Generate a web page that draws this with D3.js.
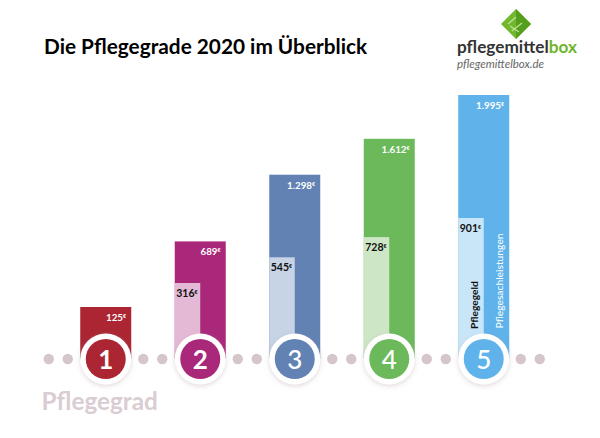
<!DOCTYPE html>
<html lang="de">
<head>
    <meta charset="UTF-8">
    <title>Die Pflegegrade 2020 im Überblick</title>
    <script src="https://d3js.org/d3.v7.min.js"></script>
    <style>
        html, body { margin: 0; padding: 0; background: #fff; }
        svg { display: block; }
        text { font-family: Lato, "Open Sans", sans-serif; }
    </style>
</head>
<body>
    <svg width="600" height="438"></svg>
    <script>
        const width = 600;
        const height = 438;

        // Data
        const grades = ["1", "2", "3", "4", "5"];
        const sachleistungen = [125, 689, 1298, 1612, 1995];
        const pflegegeld = [null, 316, 545, 728, 901];
        const sachLabels = ["125", "689", "1.298", "1.612", "1.995"];
        const geldLabels = [null, "316", "545", "728", "901"];
        const darkColors = ["#ab2632", "#a9287a", "#6182b3", "#6bb95a", "#5fb3ea"];
        const lightColors = [null, "#e4b9d6", "#c6d4e6", "#cde6c6", "#c9e6f9"];

        const svg = d3.select("svg");

        const defs = svg.append("defs");
        const shadow = defs.append("filter").attr("id", "shadow")
            .attr("x", "-30%").attr("y", "-30%").attr("width", "160%").attr("height", "160%");
        shadow.append("feDropShadow")
            .attr("dx", 0).attr("dy", 1.5).attr("stdDeviation", 2.5)
            .attr("flood-color", "#a88a94").attr("flood-opacity", 0.35);

        const x = d3.scaleBand().domain(grades).range([58.5, 531]);
        // the picture's bars are not quite linear, so the scale has a few stops
        const y = d3.scaleLinear()
            .domain([125, 316, 545, 901, 1298, 1995])
            .range([307, 283, 257.3, 218, 174.7, 95]);
        const axisY = 359;
        const barW = 51;
        const cx = d => x(d) + x.bandwidth() / 2;

        svg.append("text")
            .attr("x", 44).attr("y", 54)
            .attr("font-size", 20.8).attr("font-weight", 700).attr("fill", "#000")
            .text("Die Pflegegrade 2020 im Überblick");

        // logo
        const logo = svg.append("g");
        logo.append("path").attr("d", "M516 9 L531 24 L516 39 L501 24 Z").attr("fill", "#72b82e");
        logo.append("path").attr("d", "M516 9 L531 24 L516 39 Z").attr("fill", "#549e1e");
        logo.append("path").attr("d", "M508 24 L516 17 M512 31 L522 23 M510 26 L519 32")
            .attr("stroke", "#c4e29a").attr("stroke-width", 1.2).attr("fill", "none");
        const logoText = logo.append("text").attr("x", 457).attr("y", 53)
            .attr("font-size", 16.5).attr("font-weight", 700).attr("fill", "#333")
            .attr("textLength", 120).attr("lengthAdjust", "spacingAndGlyphs");
        logoText.append("tspan").text("pflegemittel");
        logoText.append("tspan").attr("fill", "#6fb52c").text("box");
        logo.append("text").attr("x", 457).attr("y", 68)
            .attr("font-size", 11).attr("font-style", "italic").attr("fill", "#666")
            .attr("textLength", 87).attr("lengthAdjust", "spacingAndGlyphs")
            .text("pflegemittelbox.de");

        // dark bars
        svg.selectAll(".bar").data(grades).enter().append("rect")
            .attr("class", "bar")
            .attr("x", d => cx(d) - barW / 2)
            .attr("width", barW)
            .attr("y", (d, i) => y(sachleistungen[i]))
            .attr("height", (d, i) => axisY - y(sachleistungen[i]))
            .attr("fill", (d, i) => darkColors[i]);

        // light bars, left half
        const withGeld = grades.filter((d, i) => pflegegeld[i] !== null);
        svg.selectAll(".bar-light").data(withGeld).enter().append("rect")
            .attr("class", "bar-light")
            .attr("x", d => cx(d) - barW / 2)
            .attr("width", barW / 2)
            .attr("y", d => y(pflegegeld[grades.indexOf(d)]))
            .attr("height", d => axisY - y(pflegegeld[grades.indexOf(d)]))
            .attr("fill", d => lightColors[grades.indexOf(d)]);

        // value labels with small raised euro sign
        function valueLabel(xPos, yPos, txt, fill, size) {
            const t = svg.append("text").attr("x", xPos).attr("y", yPos)
                .attr("text-anchor", "end").attr("font-size", size).attr("font-weight", 700).attr("fill", fill);
            t.append("tspan").text(txt);
            t.append("tspan").attr("font-size", 5.5).attr("dy", -3).text("€");
        }
        grades.forEach((d, i) => {
            valueLabel(cx(d) + barW / 2 - 5, y(sachleistungen[i]) + 14, sachLabels[i], "#fff", 9.8);
            if (pflegegeld[i] !== null) {
                valueLabel(cx(d) - 2.5, y(pflegegeld[i]) + 14, geldLabels[i], "#111", 10.5);
            }
        });

        // rotated series names in the last column
        const last = grades[grades.length - 1];
        svg.append("text")
            .attr("transform", `translate(${cx(last) - 6},329) rotate(-90)`)
            .attr("font-size", 10.2).attr("font-weight", 700).attr("fill", "#111")
            .text("Pflegegeld");
        svg.append("text")
            .attr("transform", `translate(${cx(last) + 19.5},328.5) rotate(-90)`)
            .attr("font-size", 10.3).attr("fill", "#fff")
            .text("Pflegesachleistungen");

        // two dots left of every grade circle, two more after the last one
        const dotXs = grades.flatMap(d => [cx(d) - 57, cx(d) - 38])
            .concat([cx(last) + 37, cx(last) + 56]);
        svg.selectAll(".dot").data(dotXs).enter().append("circle")
            .attr("class", "dot")
            .attr("cx", d => d).attr("cy", axisY)
            .attr("r", 5.2).attr("fill", "#d5c6cc");

        // grade circles
        const badge = svg.selectAll(".badge").data(grades).enter().append("g").attr("class", "badge");
        badge.append("circle")
            .attr("cx", cx).attr("cy", axisY).attr("r", 25.5)
            .attr("fill", "#fff").attr("filter", "url(#shadow)");
        badge.append("circle")
            .attr("cx", cx).attr("cy", axisY).attr("r", 20)
            .attr("fill", (d, i) => darkColors[i]);
        badge.append("text")
            .attr("x", cx).attr("y", axisY + 9.5)
            .attr("text-anchor", "middle").attr("font-size", 26)
            .attr("font-weight", (d, i) => i < 2 ? 700 : 500).attr("fill", "#fff")
            .text(d => d);

        svg.append("text")
            .attr("x", 41.5).attr("y", 410)
            .attr("font-size", 24.3).attr("font-weight", 700).attr("fill", "#d9cdd3")
            .text("Pflegegrad");
    </script>
</body>
</html>
